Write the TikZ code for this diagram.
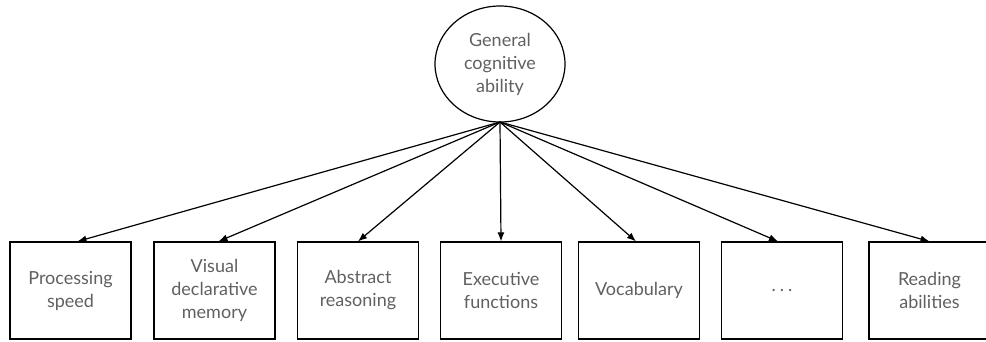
\documentclass[tikz,border=0pt]{standalone}
\usepackage{fontspec}
\setmainfont{Lato}
\usetikzlibrary{arrows.meta,shapes.geometric}
\definecolor{txt}{HTML}{606060}
\begin{document}
\begin{tikzpicture}[x=1pt,y=-1pt,
  box/.style={draw=black,line width=1.2pt,minimum width=121pt,minimum height=97pt,inner sep=0pt,
    align=center,font=\fontsize{18}{23}\selectfont,text=txt},
  latent/.style={draw=black,line width=1.2pt,ellipse,minimum width=130pt,minimum height=116pt,inner sep=0pt,
    align=center,font=\fontsize{18}{23}\selectfont,text=txt},
  conn/.style={line width=1.2pt,-{Latex[length=9pt,width=7pt]}}]
\useasboundingbox (0,0) rectangle (986,341);
\node[latent] (g) at (500,64) {General\\cognitive\\ability};
\coordinate (src) at (500,122);
\node[box] (b1) at (70.5,290.5) {Processing\\speed};
\node[box] (b2) at (214.5,290.5) {Visual\\declarative\\memory};
\node[box] (b3) at (358,290.5) {Abstract\\reasoning};
\node[box] (b4) at (501,290.5) {Executive\\functions};
\node[box] (b5) at (639,290.5) {Vocabulary};
\node[box] (b6) at (782,290.5) {.\hspace{4pt}.\hspace{4pt}.};
\node[box] (b7) at (929.5,290.5) {Reading\\abilities};
\draw[conn] (src) -- ([xshift=7pt]b1.north);
\draw[conn] (src) -- ([xshift=4pt]b2.north);
\draw[conn] (src) -- (b3.north);
\draw[conn] (src) -- (b4.north);
\draw[conn] (src) -- ([xshift=-3pt]b5.north);
\draw[conn] (src) -- ([xshift=-4pt]b6.north);
\draw[conn] (src) -- (b7.north);
\end{tikzpicture}
\end{document}
